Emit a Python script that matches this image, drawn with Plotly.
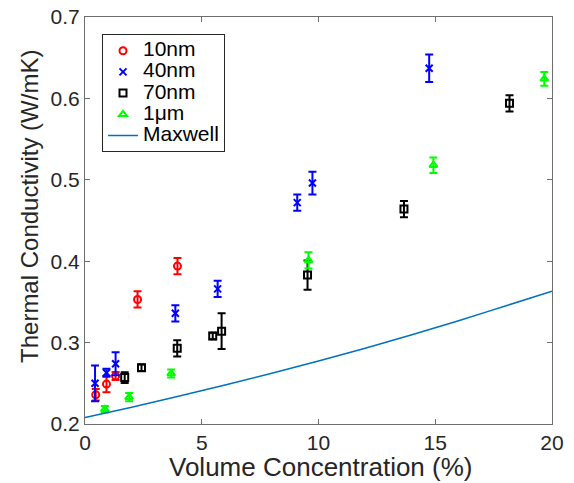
import plotly.graph_objects as go

# ---- data ----
x_10nm = [0.46, 0.92, 1.31, 2.25, 3.96]
y_10nm = [0.236, 0.249, 0.259, 0.353, 0.394]
e_10nm = [0.007, 0.010, 0.005, 0.010, 0.010]

x_40nm = [0.43, 0.92, 1.31, 3.87, 5.68, 9.09, 9.74, 14.74]
y_40nm = [0.250, 0.263, 0.274, 0.336, 0.366, 0.472, 0.496, 0.637]
e_40nm = [0.022, 0.005, 0.014, 0.010, 0.010, 0.010, 0.014, 0.017]

x_70nm = [1.70, 2.42, 3.95, 5.47, 5.85, 9.53, 13.66, 18.18]
y_70nm = [0.257, 0.269, 0.293, 0.308, 0.314, 0.383, 0.464, 0.594]
e_70nm = [0.0065, 0.004, 0.010, 0.004, 0.022, 0.018, 0.010, 0.010]

x_1um = [0.85, 1.89, 3.69, 9.57, 14.92, 19.67]
y_1um = [0.218, 0.233, 0.262, 0.401, 0.518, 0.624]
e_1um = [0.004, 0.005, 0.005, 0.010, 0.0095, 0.0085]

x_maxwell = [0, 2, 4, 6, 8, 10, 12, 14, 16, 18, 20]
y_maxwell = [0.208, 0.2207, 0.234, 0.2478, 0.2623, 0.2773, 0.2931, 0.3096, 0.3269, 0.345, 0.363]

x_ticks = [0, 5, 10, 15, 20]
y_ticks = [0.2, 0.3, 0.4, 0.5, 0.6, 0.7]

x_title = "Volume Concentration (%)"
y_title = "Thermal Conductivity (W/mK)"

FONT = "Liberation Sans, Arial, Helvetica, sans-serif"
AX = "#262626"
SPINE = "#6e6e6e"


def big(name):
    return '<span style="font-size:21px">' + name + '</span>'


fig = go.Figure()


def add_series(x, y, e, name, color, symbol):
    fig.add_trace(go.Scatter(
        x=x, y=y, mode="markers", name=big(name),
        marker=dict(symbol=symbol, size=7, color=color,
                    line=dict(color=color, width=2)),
        error_y=dict(type="data", array=e, visible=True,
                     color=color, thickness=2, width=4),
    ))


add_series(x_10nm, y_10nm, e_10nm, "10nm", "#ff0000", "circle-open")
add_series(x_40nm, y_40nm, e_40nm, "40nm", "#0000ff", "x-thin-open")
add_series(x_70nm, y_70nm, e_70nm, "70nm", "#000000", "square-open")
add_series(x_1um, y_1um, e_1um, "1\u03bcm", "#00ff00", "triangle-up-open")

fig.add_trace(go.Scatter(
    x=x_maxwell, y=y_maxwell, mode="lines", name=big("Maxwell"),
    line=dict(color="#0072BD", width=1.5, shape="spline"),
))

axis_common = dict(
    showline=True, linecolor=SPINE, linewidth=1, mirror="allticks",
    ticks="inside", ticklen=5, tickcolor=SPINE, tickwidth=1,
    showgrid=False, zeroline=False, automargin=False,
    tickfont=dict(family=FONT, size=21, color=AX),
)

fig.update_layout(
    width=574, height=483,
    margin=dict(l=85, r=22, t=17, b=59),
    paper_bgcolor="white", plot_bgcolor="white",
    font=dict(family=FONT, color=AX),
    xaxis=dict(range=[0, 20], tickvals=x_ticks, **axis_common),
    yaxis=dict(range=[0.2, 0.7], tickvals=y_ticks, tickformat=".1f",
               **axis_common),
    legend=dict(x=0.0364, y=0.958, xanchor="left", yanchor="top",
                bgcolor="white", bordercolor=AX, borderwidth=1,
                font=dict(family=FONT, size=14, color="#000000"),
                itemwidth=30, tracegroupgap=0),
    showlegend=True,
    annotations=[
        dict(text=x_title, xref="paper", yref="paper", x=0.5043, y=-0.1057,
             xanchor="center", yanchor="middle", showarrow=False,
             font=dict(family=FONT, size=26, color=AX)),
        dict(text=y_title, xref="paper", yref="paper", x=-0.12, y=0.5356,
             xanchor="center", yanchor="middle", textangle=-90, showarrow=False,
             font=dict(family=FONT, size=24, color=AX)),
    ],
)

fig.write_html("out.html",
               config={"displayModeBar": False},
               post_script="document.body.style.margin='0';document.body.style.overflow='hidden';")
